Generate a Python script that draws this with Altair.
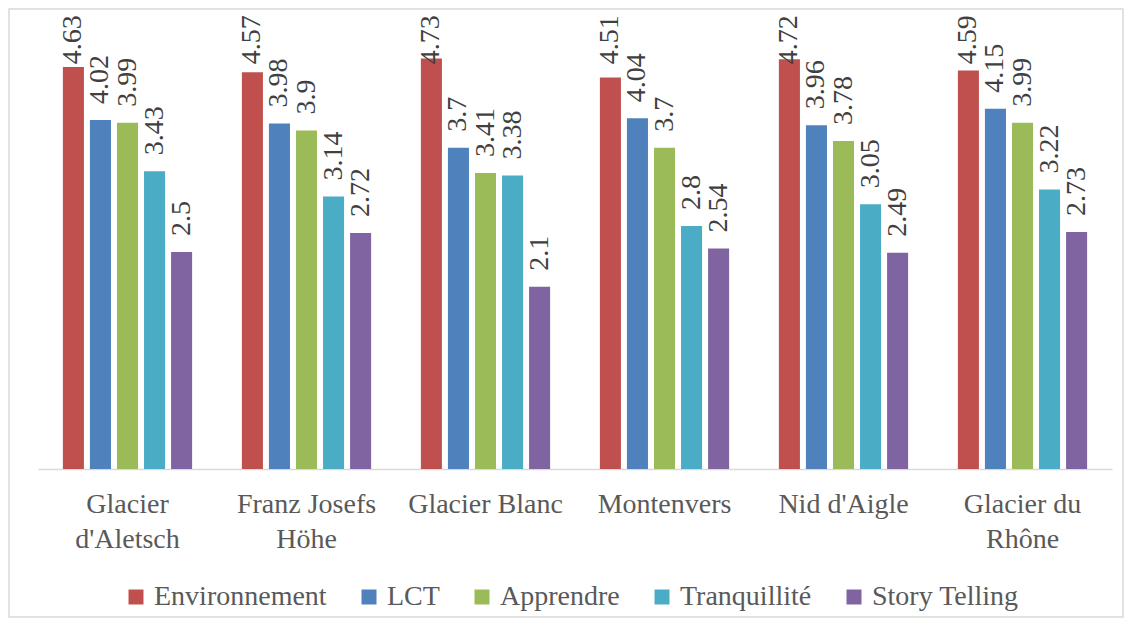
import json
import altair as alt
import pandas as pd

CATEGORIES = ["Glacier d'Aletsch", "Franz Josefs Höhe", "Glacier Blanc", "Montenvers", "Nid d'Aigle", "Glacier du Rhône"]
CATEGORY_LINES = [["Glacier", "d'Aletsch"], ["Franz Josefs", "Höhe"], ["Glacier Blanc"], ["Montenvers"], ["Nid d'Aigle"], ["Glacier du", "Rhône"]]
SERIES = ["Environnement", "LCT", "Apprendre", "Tranquillité", "Story Telling"]
COLORS = ["#C0504D", "#4F81BD", "#9BBB59", "#4BACC6", "#8064A2"]

ENVIRONNEMENT = [4.63, 4.57, 4.73, 4.51, 4.72, 4.59]
LCT = [4.02, 3.98, 3.7, 4.04, 3.96, 4.15]
APPRENDRE = [3.99, 3.9, 3.41, 3.7, 3.78, 3.99]
TRANQUILLITE = [3.43, 3.14, 3.38, 2.8, 3.05, 3.22]
STORY_TELLING = [2.5, 2.72, 2.1, 2.54, 2.49, 2.73]

series_values = [ENVIRONNEMENT, LCT, APPRENDRE, TRANQUILLITE, STORY_TELLING]
rows = []
for s, vals in zip(SERIES, series_values):
    for c, v in zip(CATEGORIES, vals):
        rows.append({"category": c, "series": s, "value": v, "label": f"{v:g}"})
df = pd.DataFrame(rows)

label_expr = (
    json.dumps(CATEGORY_LINES, ensure_ascii=False)
    + "[indexof(" + json.dumps(CATEGORIES, ensure_ascii=False) + ", datum.value)]"
)

FONT = "Times New Roman, Liberation Serif, serif"

base = alt.Chart(df).encode(
    x=alt.X(
        "category:N",
        sort=CATEGORIES,
        scale=alt.Scale(paddingInner=0, paddingOuter=0),
        axis=alt.Axis(
            title=None,
            labelExpr=label_expr,
            labelAngle=0,
            labelFont=FONT,
            labelFontSize=28,
            labelColor="#595959",
            labelLineHeight=35,
            labelPadding=21,
            labelBaseline="top",
            ticks=False,
            domainColor="#D9D9D9",
            domainWidth=1.5,
            grid=False,
        ),
    ),
    xOffset=alt.XOffset("series:N", sort=SERIES, scale=alt.Scale(paddingInner=0.222, paddingOuter=0.92)),
)

bars = base.mark_bar().encode(
    y=alt.Y("value:Q", scale=alt.Scale(domain=[0, 5], nice=False, zero=True), axis=None),
    color=alt.Color(
        "series:N",
        sort=SERIES,
        scale=alt.Scale(domain=SERIES, range=COLORS),
        legend=alt.Legend(
            title=None,
            orient="none",
            legendX=84,
            legendY=548,
            direction="horizontal",
            columns=5,
            symbolType="square",
            symbolSize=225,
            symbolStrokeWidth=0,
            labelFont=FONT,
            labelFontSize=28,
            labelColor="#595959",
            labelOffset=4,
            labelLimit=400,
            columnPadding=28,
        ),
    ),
)

# Like the source, labels that would run past the top of the chart are pushed down
labels = base.transform_calculate(
    label_pos="min(datum.value, 4.48)"
).mark_text(
    angle=270, align="left", baseline="middle", dx=16,
    font=FONT, fontSize=28, color="#404040"
).encode(
    y=alt.Y("label_pos:Q", scale=alt.Scale(domain=[0, 5], nice=False)),
    text="label:N",
)

border = alt.Chart(alt.Data(values=[{"a": 1}])).mark_rect(
    filled=False, stroke="#D9D9D9", strokeWidth=1.5
).encode(
    x=alt.value(-29), x2=alt.value(1085), y=alt.value(-26), y2=alt.value(582)
)

chart = alt.layer(border, bars, labels).properties(
    width=1074,
    height=434,
    autosize=alt.AutoSizeParams(type="none"),
    padding={"left": 30, "top": 27, "right": 13, "bottom": 150},
).configure_view(stroke=None)

chart.save("out.html", embed_options={"renderer": "svg", "actions": False})
